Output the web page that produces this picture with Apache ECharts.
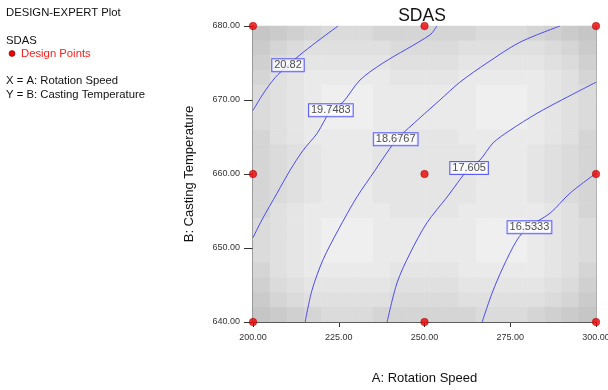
<!DOCTYPE html>
<html><head><meta charset="utf-8">
<script src="https://cdn.jsdelivr.net/npm/echarts@6/dist/echarts.min.js"></script>
<style>html,body{margin:0;padding:0;background:#fff}#c{width:608px;height:390px}</style>
</head><body><div id="c"></div>
<script>
// ---- data ----
const xTicks = [200, 225, 250, 275, 300];
const yTicks = [640, 650, 660, 670, 680];
const contourLevels = ['20.82', '19.7483', '18.6767', '17.605', '16.5333'];
const contour20_82 = [[224.8,680],[218.1,677.7],[213.7,676.1],[210.2,674.7],[206.4,673.0],[202.9,670.8],[200,668.6]];
const contour19_75 = [[253.6,680],[251.6,678.8],[237.9,675.0],[231.2,672.7],[226.2,669.7],[222.7,668.6],[218.7,665.5],[214.6,663.2],[210.8,660.5],[207.0,657.4],[202.6,653.8],[200,651.4]];
const contour18_68 = [[289.5,680],[277.8,677.8],[268.2,675.0],[260.3,672.4],[254.5,670.0],[248.7,667.6],[242.0,664.7],[237.6,661.9],[235.6,660.5],[230.3,656.9],[224.8,652.4],[220.4,648.4],[217.2,644.3],[215.2,640]];
const contour17_61 = [[300,672.4],[290.4,670.1],[282.8,668.2],[274.9,665.9],[270.0,664.2],[266.2,661.9],[263.0,660.8],[256.6,656.9],[250.7,653.4],[245.8,649.3],[242.0,645.3],[239.1,640]];
const contour16_53 = [[300,660.1],[292.4,657.4],[286.6,654.7],[280.2,652.8],[277.0,651.1],[272.9,647.4],[269.7,643.9],[266.8,640]];
const labelPositions = [[210.2,674.7],[222.7,668.6],[241.6,664.7],[263.0,660.8],[280.6,652.8]];
const designPoints = [[200,640],[250,640],[300,640],[200,660],[250,660],[300,660],[200,680],[250,680],[300,680]];
// background shading levels, 20x20 cells, top row first (0 = darkest)
const shadeRows = [
 '01234443333334443210',
 '13455555444455555431',
 '24566666555566666542',
 '35677777666677777653',
 '45678887777778887654',
 '45678887777778887654',
 '45678887777778887654',
 '35677777666677777653',
 '34567776666667776543',
 '34567776666667776543',
 '34567776666667776543',
 '34567776666667776543',
 '35677777666677777653',
 '45678887777778887654',
 '45678887777778887654',
 '45678887777778887654',
 '35677777666677777653',
 '24566666555566666542',
 '13455555444455555431',
 '01234443333334443210'
];

const contours = [contour20_82, contour19_75, contour18_68, contour17_61, contour16_53];
const cells = [];
shadeRows.forEach((row, r) => {
  for (let c = 0; c < row.length; c++) cells.push([c, shadeRows.length - 1 - r, +row[c]]);
});
const idx = Array.from({length: 20}, (_, i) => String(i));

const FONT = 'Liberation Sans, Arial, sans-serif';
const G = {left: 253, top: 26, width: 343, height: 296, outerBoundsMode: 'none', containLabel: false};
const chart = echarts.init(document.getElementById('c'));
const series = [{
  type: 'heatmap', xAxisIndex: 0, yAxisIndex: 0, data: cells, silent: true,
  itemStyle: {borderWidth: 0}
}];
contours.forEach((d) => series.push({
  type: 'line', xAxisIndex: 1, yAxisIndex: 1, data: d, smooth: 0.3, symbol: 'none',
  lineStyle: {color: '#4a4af5', width: 1}, z: 3, silent: true
}));
series.push({
  type: 'scatter', xAxisIndex: 1, yAxisIndex: 1, symbolSize: 0, z: 5, silent: true,
  data: labelPositions.map((p, i) => ({value: p, name: contourLevels[i]})),
  label: {show: true, position: 'inside', formatter: (p) => p.name, color: '#222', fontSize: 11,
    fontFamily: FONT, backgroundColor: '#fff', borderColor: '#3a3aff', borderWidth: 1, padding: [1, 2, 0, 2]}
});
series.push({
  type: 'scatter', xAxisIndex: 1, yAxisIndex: 1, data: designPoints, symbolSize: 7.5, clip: false, z: 10,
  itemStyle: {color: '#ee0000', borderColor: '#990000', borderWidth: 0.6}
});

chart.setOption({
  animation: false,
  textStyle: {fontFamily: FONT},
  visualMap: {show: false, min: 0, max: 8, dimension: 2, seriesIndex: 0,
    inRange: {color: ['#c6c6c6', '#efefef']}},
  grid: [Object.assign({}, G), Object.assign({}, G)],
  xAxis: [
    {type: 'category', gridIndex: 0, data: idx, show: false},
    {type: 'value', gridIndex: 1, min: 200, max: 300, interval: 25,
     name: 'A: Rotation Speed', nameLocation: 'middle', nameGap: 50,
     nameTextStyle: {fontSize: 13, color: '#111', fontFamily: FONT},
     axisLine: {lineStyle: {color: '#333', width: 1}},
     axisTick: {show: true, length: 5, lineStyle: {color: '#333'}},
     axisLabel: {fontSize: 9, color: '#333', margin: 11, formatter: (v) => v.toFixed(2)},
     splitLine: {show: false}},
    {type: 'value', gridIndex: 1, position: 'top', min: 200, max: 300,
     axisLine: {show: true, lineStyle: {color: '#333'}}, axisTick: {show: false}, axisLabel: {show: false}, splitLine: {show: false}}
  ],
  yAxis: [
    {type: 'category', gridIndex: 0, data: idx, show: false},
    {type: 'value', gridIndex: 1, min: 640, max: 680, interval: 10,
     name: 'B: Casting Temperature', nameLocation: 'middle', nameGap: 57, nameRotate: 90,
     nameTextStyle: {fontSize: 13, color: '#111', fontFamily: FONT},
     axisLine: {show: true, lineStyle: {color: '#888', width: 2}},
     axisTick: {show: true, length: 9, lineStyle: {color: '#333'}},
     axisLabel: {fontSize: 9, color: '#333', margin: 13, formatter: (v) => v.toFixed(2)},
     splitLine: {show: false}},
    {type: 'value', gridIndex: 1, position: 'right', min: 640, max: 680,
     axisLine: {show: true, lineStyle: {color: '#888', width: 1.5}}, axisTick: {show: false}, axisLabel: {show: false}, splitLine: {show: false}}
  ],
  graphic: [
    {type: 'text', x: 422, y: 16, style: {text: 'SDAS', fontSize: 17.5, fill: '#111', fontFamily: FONT, align: 'center', verticalAlign: 'middle'}},
    {type: 'text', left: 6, top: 7, style: {text: 'DESIGN-EXPERT Plot', fontSize: 11.3, fill: '#111', fontFamily: FONT}},
    {type: 'text', left: 6, top: 35, style: {text: 'SDAS', fontSize: 11.3, fill: '#111', fontFamily: FONT}},
    {type: 'circle', shape: {cx: 12, cy: 53.5, r: 3}, style: {fill: '#ee0000', stroke: '#880000', lineWidth: 0.6}},
    {type: 'text', left: 21, top: 48, style: {text: 'Design Points', fontSize: 11.3, fill: '#ff2020', fontFamily: FONT}},
    {type: 'text', left: 6, top: 75, style: {text: 'X = A: Rotation Speed', fontSize: 11.3, fill: '#111', fontFamily: FONT}},
    {type: 'text', left: 6, top: 89, style: {text: 'Y = B: Casting Temperature', fontSize: 11.3, fill: '#111', fontFamily: FONT}}
  ],
  series: series
});
</script></body></html>
